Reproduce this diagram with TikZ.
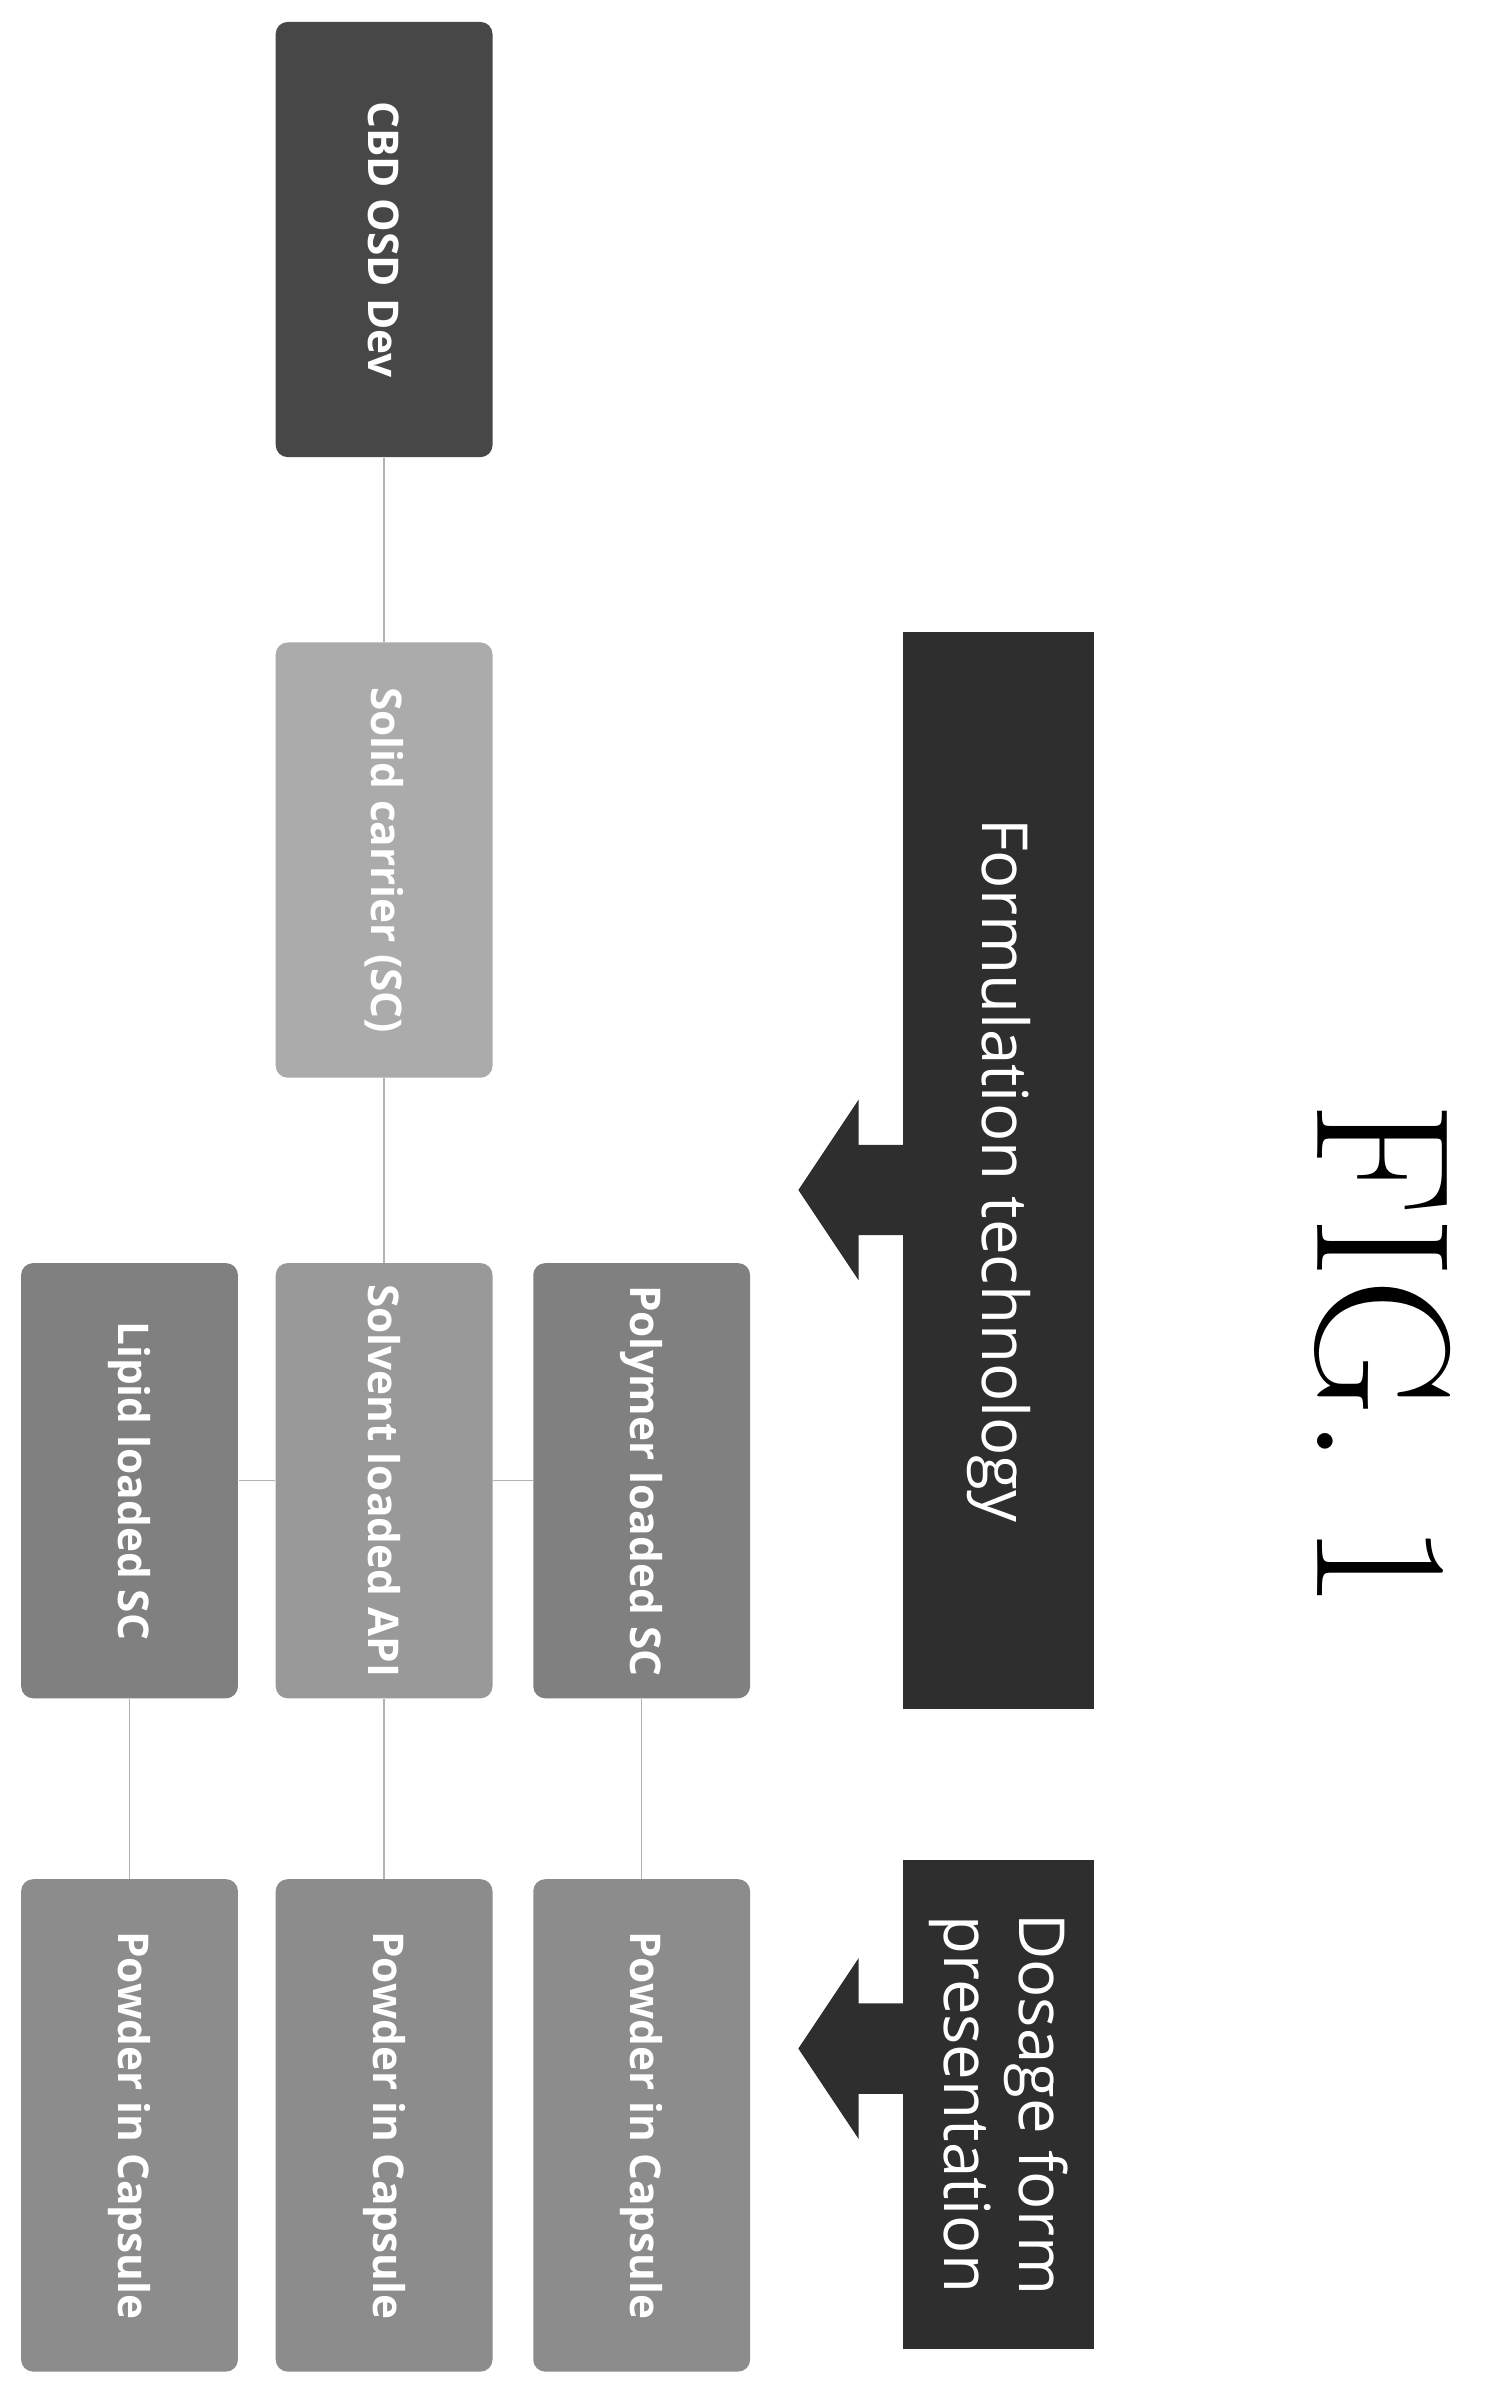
\documentclass[tikz,border=0pt]{standalone}
\usepackage{fontspec}
\setsansfont{Open Sans}
\usetikzlibrary{positioning}
\tikzset{
  box/.style={rounded corners=0.16cm, rotate=-90, minimum width=5.78cm, minimum height=2.88cm,
    text=white, font=\sffamily\bfseries\fontsize{16}{18}\selectfont, inner sep=0pt},
  link/.style={gray!60, line width=0.6pt},
  banner/.style={fill=black!82, rotate=-90, text=white, align=center,
    font=\sffamily\fontsize{24}{28}\selectfont, inner sep=0pt}
}
\begin{document}
\begin{tikzpicture}[x=0.02cm,y=-0.02cm]
\useasboundingbox (0,0) rectangle (1000,1590);
% boxes
\node[box, fill=black!72] (cbd) at (255,159) {CBD OSD Dev};
\node[box, fill=black!33] (sc) at (255,571) {Solid carrier (SC)};
\node[box, fill=black!50] (lipid) at (86,983) {Lipid loaded SC};
\node[box, fill=black!40] (solvent) at (255,983) {Solvent loaded API};
\node[box, fill=black!50] (polymer) at (426,983) {Polymer loaded SC};
\foreach \n/\x in {powa/86,powb/255,powc/426}
  \node[box, fill=black!45, minimum width=6.54cm] (\n) at (\x,1411) {Powder in Capsule};
% connectors
\draw[link] (cbd) -- (sc);
\draw[link] (sc) -- (solvent);
\draw[link] (lipid) -- (solvent);
\draw[link] (solvent) -- (polymer);
\draw[link] (lipid) -- (powa);
\draw[link] (solvent) -- (powb);
\draw[link] (polymer) -- (powc);
% banners
\node[banner, minimum width=14.3cm, minimum height=2.54cm] (form) at (663,777) {Formulation technology};
\node[banner, minimum width=6.5cm, minimum height=2.54cm] (dose) at (663,1397) {Dosage form\\presentation};
\fill[black!82] (600,760) -- (570,760) -- (570,730) -- (530,790) -- (570,850) -- (570,820) -- (600,820) -- cycle;
\fill[black!82] (600,1330) -- (570,1330) -- (570,1300) -- (530,1360) -- (570,1420) -- (570,1390) -- (600,1390) -- cycle;
% figure label
\node[rotate=-90, font=\fontsize{72}{80}\selectfont] (fig) at (918,900) {FIG. 1};
\end{tikzpicture}
\end{document}
